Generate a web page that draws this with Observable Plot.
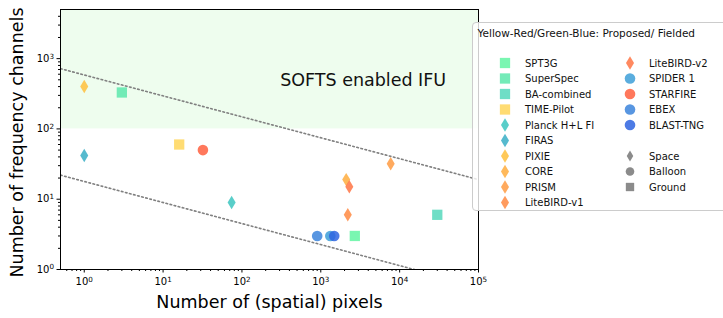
<!DOCTYPE html>
<html><head><meta charset="utf-8">
<script src="https://cdn.jsdelivr.net/npm/d3@7"></script>
<script src="https://cdn.jsdelivr.net/npm/@observablehq/plot@0.6"></script>
<style>
body{margin:0;background:#fff;font-family:"DejaVu Sans",sans-serif;}
#wrap{position:relative;width:723px;height:318px;overflow:hidden;}
#legend{position:absolute;left:472px;top:22px;width:280px;height:189px;border:1px solid #cccccc;border-radius:4px;background:rgba(255,255,255,0.8);box-sizing:border-box;}
#legend svg{position:absolute;left:0;top:0;overflow:visible;}
</style></head><body><div id="wrap"></div>
<script>
// ---- data ----
const names = ["SPT3G","SuperSpec","BA-combined","TIME-Pilot","Planck H+L FI","FIRAS","PIXIE","CORE","PRISM","LiteBIRD-v1","LiteBIRD-v2","SPIDER 1","STARFIRE","EBEX","BLAST-TNG"];
const pixels = [2700, 3, 30000, 16, 74, 1, 1, 2100, 7700, 2200, 2300, 1320, 32, 900, 1480];
const channels = [3, 330, 6, 60, 9, 42, 400, 19, 32, 6, 15, 3, 50, 3, 3];
const platforms = ["Ground","Ground","Ground","Ground","Space","Space","Space","Space","Space","Space","Space","Balloon","Balloon","Balloon","Balloon"];
const colors = ["#63f5a3","#5ce8ab","#56d8bc","#ffd65a","#3cc6bf","#38aec6","#ffbf3c","#ffad3e","#ff9b42","#ff8a42","#ff7444","#3d9fd8","#ff6040","#3b84dc","#2e64e0"];
const platformNames = ["Space","Balloon","Ground"];
const upperLine = {x: [0.5, 1e5], y: [720, 19]};
const lowerLine = {x: [0.5, 1e5], y: [22, 0.57]};
const shadeChannels = [100, 5000];
const xMajor = [1, 10, 100, 1000, 10000, 100000];
const yMajor = [1, 10, 100, 1000];
const legendTitle = "Yellow-Red/Green-Blue: Proposed/ Fielded";
const xLabel = "Number of (spatial) pixels";
const yLabel = "Number of frequency channels";
const annotation = "SOFTS enabled IFU";

// ---- symbols ----
const thinDiamond = {draw(ctx, size){ const r = Math.sqrt(size/Math.PI); const h = r*1.27, w = r*0.76; ctx.moveTo(0,-h); ctx.lineTo(w,0); ctx.lineTo(0,h); ctx.lineTo(-w,0); ctx.closePath(); }};
const square = {draw(ctx, size){ const r = Math.sqrt(size/Math.PI)*0.97; ctx.moveTo(-r,-r); ctx.lineTo(r,-r); ctx.lineTo(r,r); ctx.lineTo(-r,r); ctx.closePath(); }};
const circle = {draw(ctx, size){ const r = Math.sqrt(size/Math.PI); ctx.moveTo(r,0); ctx.arc(0,0,r,0,2*Math.PI); ctx.closePath(); }};
const symFor = {Space: thinDiamond, Balloon: circle, Ground: square};

const rows = names.map((n,i)=>({name:n, x:pixels[i], y:channels[i], platform:platforms[i], color:colors[i]}));
const upper = upperLine.x.map((x,i)=>({x, y: upperLine.y[i]}));
const lower = lowerLine.x.map((x,i)=>({x, y: lowerLine.y[i]}));

const xMinor = [], yMinor = [];
for (let e = -1; e < 5; e++) for (let m = 2; m <= 9; m++) { const v = m*Math.pow(10,e); if (v > 0.5 && v < 1e5) xMinor.push(v); }
for (let e = 0; e < 4; e++) for (let m = 2; m <= 9; m++) { const v = m*Math.pow(10,e); if (v < 5000) yMinor.push(v); }
const fmt = d => "10^" + Math.round(Math.log10(d));

const plot = Plot.plot({
  width: 723, height: 318,
  marginLeft: 60, marginRight: 245, marginTop: 9, marginBottom: 49,
  x: {type: "log", domain: [0.5, 1e5]},
  y: {type: "log", domain: [1, 5000]},
  style: {fontFamily: "DejaVu Sans", fontSize: "10px", color: "#000", background: "white"},
  marks: [
    Plot.rect([shadeChannels], {x1: 0.5, x2: 1e5, y1: d => d[0], y2: d => d[1], fill: "#eefdee"}),
    Plot.line(upper, {x: "x", y: "y", stroke: "#808080", strokeWidth: 1.6, strokeDasharray: "1.6,2.6", clip: true}),
    Plot.line(lower, {x: "x", y: "y", stroke: "#808080", strokeWidth: 1.6, strokeDasharray: "1.6,2.6", clip: true}),
    Plot.text([annotation], {x: 305, y: 490, text: d => d, textAnchor: "start", fontSize: 17.5, fill: "#111"}),
    ...rows.map(r => Plot.dot([r], {x: "x", y: "y", r: 5.3, symbol: symFor[r.platform], fill: r.color, fillOpacity: 0.85, stroke: "none"})),
    Plot.frame({stroke: "#000", strokeWidth: 1}),
    Plot.axisX({ticks: xMajor, tickFormat: fmt, tickSize: 3.5, tickPadding: 5, label: null, fontSize: 10}),
    Plot.axisX({ticks: xMinor, tickFormat: () => "", tickSize: 2, label: null}),
    Plot.axisY({ticks: yMajor, tickFormat: fmt, tickSize: 3.5, tickPadding: 3, label: null, fontSize: 10}),
    Plot.axisY({ticks: yMinor, tickFormat: () => "", tickSize: 2, label: null}),
    Plot.text([xLabel], {frameAnchor: "bottom", dy: 33, text: d => d, textAnchor: "middle", lineAnchor: "middle", fontSize: 17.5, fill: "#000"}),
    Plot.text([yLabel], {frameAnchor: "left", dx: -43, dy: 3, rotate: -90, text: d => d, textAnchor: "middle", lineAnchor: "middle", fontSize: 17.5, fill: "#000"})
  ]
});
// render exponents as raised superscripts
d3.select(plot).selectAll("text").each(function(){
  const t = this.textContent;
  const m = /^10\^(-?\d+)$/.exec(t);
  if (!m) return;
  const sel = d3.select(this);
  sel.text("");
  sel.append("tspan").text("10");
  sel.append("tspan").attr("dy", "-0.45em").attr("font-size", "7.2px").text(m[1]);
});
const wrap = document.getElementById("wrap");
wrap.appendChild(plot);

// ---- legend ----
const leg = document.createElement("div");
leg.id = "legend";
wrap.appendChild(leg);
const svg = d3.select(leg).append("svg").attr("width", 280).attr("height", 189)
  .style("font-family", "DejaVu Sans").style("font-size", "10px");
svg.append("text").attr("x", 4.5).attr("y", 14).style("font-size", "10.5px").attr("fill", "#111").text(legendTitle);
function sympath(sym, r){ const p = d3.path(); sym.draw(p, Math.PI*r*r); return p.toString(); }
const items = rows.map(r => ({label: r.name, sym: symFor[r.platform], color: r.color, r: 5.3}));
const col1 = items.slice(0, 10), col2 = items.slice(10);
const gray = platformNames.map(p => ({label: p, sym: symFor[p], color: "#777", r: 4.3}));
const col2all = [...col2, null, ...gray];
function drawCol(list, mx, tx){
  list.forEach((it, i) => {
    if (!it) return;
    const y = 40 + i*15.5;
    svg.append("path").attr("d", sympath(it.sym, it.r)).attr("transform", `translate(${mx},${y})`).attr("fill", it.color).attr("fill-opacity", 0.85);
    svg.append("text").attr("x", tx).attr("y", y).attr("dy", "0.35em").attr("fill", "#111").text(it.label);
  });
}
drawCol(col1, 32, 52);
drawCol(col2all, 157, 176);
</script></body></html>
